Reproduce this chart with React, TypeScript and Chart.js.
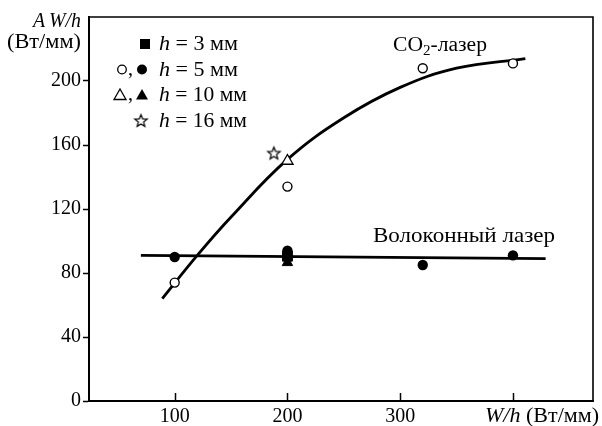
import React, { useEffect, useRef } from "react";
import { Chart, registerables } from "chart.js";

Chart.register(...registerables);

// ---- data ----
const xTickValues = [100, 200, 300, 400];
const xTickLabels = ["100", "200", "300", ""];
const yTickValues = [0, 40, 80, 120, 160, 200];
const yTickLabels = ["0", "40", "80", "120", "160", "200"];

const co2OpenCircles = [
  { x: 100, y: 74 },
  { x: 200, y: 134 },
  { x: 320, y: 208 },
  { x: 400, y: 211 },
];
const fiberFilledCircles = [
  { x: 100, y: 90 },
  { x: 200, y: 94 },
  { x: 320, y: 85 },
  { x: 400, y: 91 },
];
const h3Squares = [{ x: 200, y: 90.5 }];
const h10OpenTriangles = [{ x: 200, y: 150 }];
const h10FilledTriangles = [{ x: 200, y: 86.5 }];
const h16Stars = [{ x: 188, y: 155 }];

const co2Curve = [
  { x: 89, y: 64 },
  { x: 120, y: 91 },
  { x: 150, y: 115 },
  { x: 200, y: 151 },
  { x: 250, y: 177 },
  { x: 300, y: 196 },
  { x: 350, y: 208 },
  { x: 411, y: 214 },
];
const fiberLine = [
  { x: 70, y: 91 },
  { x: 429, y: 89 },
];

const legendTexts = ["3", "5", "10", "16"];
const co2Label = "-лазер";
const fiberLabel = "Волоконный лазер";
const xTitleItalic = "W/h";
const xTitleUnit = " (Вт/мм)";
const yTitleItalic = "A\u2009W/h";
const yTitleUnit = "(Вт/мм)";

const FONT = "'Liberation Serif', 'Times New Roman', serif";

function makeStar(): HTMLCanvasElement {
  const size = 17;
  const c = document.createElement("canvas");
  c.width = size;
  c.height = size;
  const g = c.getContext("2d")!;
  const cx = size / 2;
  const cy = size / 2 + 0.6;
  const R = 6.5;
  const r = 2.8;
  g.beginPath();
  for (let i = 0; i < 10; i++) {
    const a = -Math.PI / 2 + (i * Math.PI) / 5;
    const rad = i % 2 === 0 ? R : r;
    const px = cx + Math.cos(a) * rad;
    const py = cy + Math.sin(a) * rad;
    if (i === 0) g.moveTo(px, py);
    else g.lineTo(px, py);
  }
  g.closePath();
  g.fillStyle = "#fff";
  g.fill();
  g.lineWidth = 1.2;
  g.strokeStyle = "#000";
  g.lineJoin = "miter";
  g.stroke();
  return c;
}

type Part = { t: string; italic?: boolean; size?: number; dy?: number };

function drawParts(
  ctx: CanvasRenderingContext2D,
  parts: Part[],
  x: number,
  y: number,
  baseSize: number,
  targetWidth: number | null,
  align: "left" | "right" = "left"
) {
  ctx.save();
  ctx.textBaseline = "alphabetic";
  ctx.textAlign = "left";
  ctx.fillStyle = "#000";
  const widths = parts.map((p) => {
    ctx.font = `${p.italic ? "italic " : ""}${p.size ?? baseSize}px ${FONT}`;
    return ctx.measureText(p.t).width;
  });
  const total = widths.reduce((a, b) => a + b, 0);
  const sx = targetWidth ? targetWidth / total : 1;
  const start = align === "right" ? x - total * sx : x;
  ctx.translate(start, y);
  ctx.scale(sx, 1);
  let cur = 0;
  parts.forEach((p, i) => {
    ctx.font = `${p.italic ? "italic " : ""}${p.size ?? baseSize}px ${FONT}`;
    ctx.fillText(p.t, cur, p.dy ?? 0);
    cur += widths[i];
  });
  ctx.restore();
}

export default function App() {
  const ref = useRef<HTMLCanvasElement | null>(null);

  useEffect(() => {
    const canvas = ref.current;
    if (!canvas) return;
    const star = makeStar();

    const overlay = {
      id: "overlay",
      afterDraw(chart: any) {
        const ctx: CanvasRenderingContext2D = chart.ctx;
        const { left, right, top, bottom } = chart.chartArea;
        const xs = chart.scales.x;
        ctx.save();
        ctx.strokeStyle = "#000";
        // frame top & right
        ctx.lineWidth = 1.6;
        ctx.beginPath();
        ctx.moveTo(left, top);
        ctx.lineTo(right, top);
        ctx.lineTo(right, bottom);
        ctx.stroke();
        // inward x ticks
        ctx.lineWidth = 1.5;
        xTickValues.forEach((v) => {
          const px = Math.round(xs.getPixelForValue(v)) + 0.5;
          ctx.beginPath();
          ctx.moveTo(px, bottom);
          ctx.lineTo(px, bottom - 8);
          ctx.stroke();
        });
        ctx.restore();

        // x title
        drawParts(ctx, [{ t: xTitleItalic, italic: true }, { t: xTitleUnit }], 485, 422, 21, 114);
        // y title
        drawParts(ctx, [{ t: yTitleItalic, italic: true }], 81, 27, 20, 48, "right");
        drawParts(ctx, [{ t: yTitleUnit }], 81, 48, 20, 74, "right");

        // annotations
        drawParts(
          ctx,
          [{ t: "CO" }, { t: "2", size: 14, dy: 4 }, { t: co2Label }],
          393,
          51,
          20,
          94
        );
        drawParts(ctx, [{ t: fiberLabel }], 373, 242, 21, 182);

        // legend
        const rows = [44, 69.5, 95, 120.5];
        const textX = 159;
        const widthsT = [79, 79, 88, 88];
        rows.forEach((ry, i) => {
          drawParts(
            ctx,
            [{ t: "h", italic: true }, { t: ` = ${legendTexts[i]} мм` }],
            textX,
            ry + 6,
            20,
            widthsT[i]
          );
        });
        ctx.save();
        ctx.fillStyle = "#000";
        ctx.strokeStyle = "#000";
        // row 1 square
        ctx.fillRect(140, rows[0] - 5, 10, 10);
        // row 2 circles
        ctx.lineWidth = 1.3;
        ctx.beginPath();
        ctx.arc(122, rows[1], 4.3, 0, Math.PI * 2);
        ctx.fillStyle = "#fff";
        ctx.fill();
        ctx.stroke();
        ctx.fillStyle = "#000";
        ctx.beginPath();
        ctx.arc(142, rows[1], 5, 0, Math.PI * 2);
        ctx.fill();
        // commas
        ctx.font = `20px ${FONT}`;
        ctx.fillText(",", 128, rows[1] + 5);
        ctx.fillText(",", 128, rows[2] + 5);
        // row 3 triangles
        const tri = (cx: number, cy: number, fill: boolean) => {
          ctx.beginPath();
          ctx.moveTo(cx, cy - 6);
          ctx.lineTo(cx + 6, cy + 4.5);
          ctx.lineTo(cx - 6, cy + 4.5);
          ctx.closePath();
          if (fill) {
            ctx.fillStyle = "#000";
            ctx.fill();
          } else {
            ctx.fillStyle = "#fff";
            ctx.fill();
            ctx.lineWidth = 1.3;
            ctx.stroke();
          }
        };
        tri(120, rows[2], false);
        tri(142, rows[2], true);
        // row 4 star
        ctx.drawImage(star, 141 - star.width / 2, rows[3] - star.height / 2);
        ctx.restore();
      },
    };

    const chart = new Chart(canvas, {
      type: "scatter",
      data: {
        datasets: [
          {
            label: "h16",
            data: h16Stars,
            pointStyle: star as any,
            pointRadius: 8,
            order: 1,
          },
          {
            label: "h10 open",
            data: h10OpenTriangles,
            pointStyle: "triangle",
            pointRadius: 6.5,
            backgroundColor: "#fff",
            borderColor: "#000",
            borderWidth: 1.3,
            order: 1,
          },
          {
            label: "h5 open",
            data: co2OpenCircles,
            pointStyle: "circle",
            pointRadius: 4.5,
            backgroundColor: "#fff",
            borderColor: "#000",
            borderWidth: 1.4,
            order: 1,
          },
          {
            label: "h10 filled",
            data: h10FilledTriangles,
            pointStyle: "triangle",
            pointRadius: 6,
            backgroundColor: "#000",
            borderColor: "#000",
            borderWidth: 1,
            order: 2,
          },
          {
            label: "h3",
            data: h3Squares,
            pointStyle: "rect",
            pointRadius: 7,
            backgroundColor: "#000",
            borderColor: "#000",
            borderWidth: 1,
            order: 2,
          },
          {
            label: "h5 filled",
            data: fiberFilledCircles,
            pointStyle: "circle",
            pointRadius: 5.2,
            backgroundColor: "#000",
            borderColor: "#000",
            borderWidth: 0,
            order: 2,
          },
          {
            type: "line",
            label: "CO2 fit",
            data: co2Curve,
            borderColor: "#000",
            borderWidth: 2.8,
            pointRadius: 0,
            tension: 0.4,
            fill: false,
            order: 10,
          } as any,
          {
            type: "line",
            label: "fiber fit",
            data: fiberLine,
            borderColor: "#000",
            borderWidth: 2.8,
            pointRadius: 0,
            fill: false,
            order: 10,
          } as any,
        ],
      },
      options: {
        responsive: false,
        animation: false,
        devicePixelRatio: 1,
        layout: { padding: { top: 17, right: 3, left: 0, bottom: 0 } },
        plugins: {
          legend: { display: false },
          tooltip: { enabled: false },
        },
        scales: {
          x: {
            type: "linear",
            min: 24,
            max: 471,
            afterBuildTicks: (s: any) => {
              s.ticks = xTickValues.map((v) => ({ value: v }));
            },
            afterFit: (s: any) => {
              s.height = 25;
            },
            ticks: {
              callback: (v: any) => {
                const i = xTickValues.indexOf(Number(v));
                return i >= 0 ? xTickLabels[i] : "";
              },
              color: "#000",
              font: { family: FONT, size: 20 },
              padding: 4,
              maxRotation: 0,
              autoSkip: false,
            },
            grid: { display: true, drawOnChartArea: false, drawTicks: false, color: "#000" },
            border: { display: true, color: "#000", width: 2 },
          },
          y: {
            type: "linear",
            min: 0,
            max: 240,
            afterBuildTicks: (s: any) => {
              s.ticks = yTickValues.map((v) => ({ value: v }));
            },
            afterFit: (s: any) => {
              s.width = 89;
            },
            ticks: {
              callback: (v: any) => {
                const i = yTickValues.indexOf(Number(v));
                return i >= 0 ? yTickLabels[i] : "";
              },
              color: "#000",
              font: { family: FONT, size: 20 },
              padding: 2,
              autoSkip: false,
            },
            grid: {
              display: true,
              drawOnChartArea: false,
              drawTicks: true,
              tickLength: 6,
              tickWidth: 1.5,
              color: "#000",
            },
            border: { display: true, color: "#000", width: 2 },
          },
        },
      },
      plugins: [overlay],
    });

    return () => chart.destroy();
  }, []);

  return (
    <canvas
      ref={ref}
      width={602}
      height={426}
      style={{ position: "absolute", left: 0, top: 0, width: 602, height: 426, background: "#fff" }}
    />
  );
}
